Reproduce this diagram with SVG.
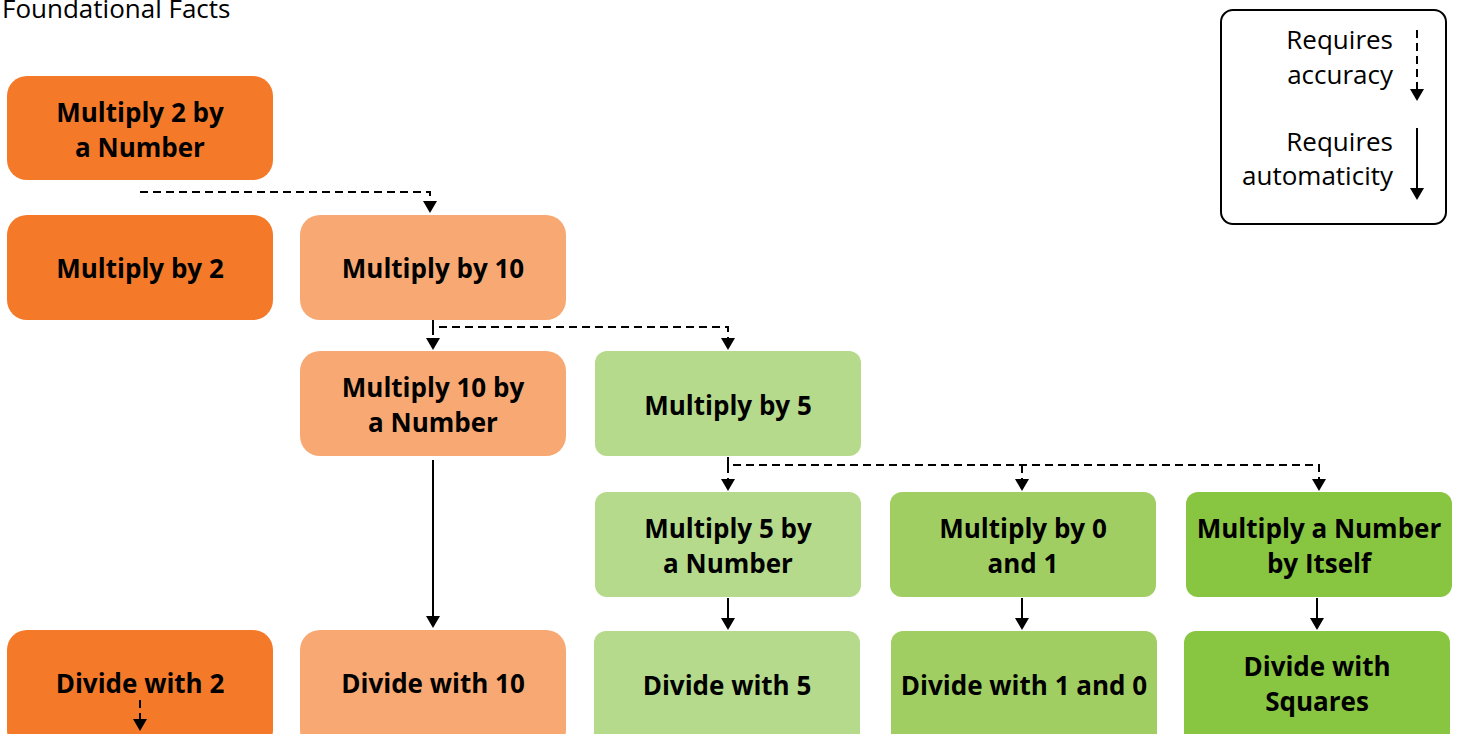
<svg xmlns="http://www.w3.org/2000/svg" width="1460" height="734" viewBox="0 0 1460 734">
<style>
.n text{font-family:"Open Sans","Liberation Sans",sans-serif;font-weight:bold;font-size:26px;fill:#000;text-anchor:middle}
.o1{fill:#F47A29}.o2{fill:#F8A973}.g1{fill:#B6DA8C}.g2{fill:#A0CE63}.g3{fill:#88C540}
.d{fill:none;stroke:#000;stroke-width:2;stroke-dasharray:8 5}
.s{fill:none;stroke:#000;stroke-width:2}
.lg{font-family:"Open Sans","Liberation Sans",sans-serif;font-size:26px;fill:#000;text-anchor:end}
</style>
<defs>
<path id="ah" d="M-7,0 h14 l-7,12 z" fill="#000"/>
</defs>
<rect width="1460" height="734" fill="#fff"/>
<text x="2" y="18" font-family="'Open Sans','Liberation Sans',sans-serif" font-size="26" fill="#000">Foundational Facts</text>

<g id="n-mult2num" class="n"><rect class="o1" x="7" y="76" width="266" height="104" rx="20"/><text x="140" y="122">Multiply 2 by</text><text x="140" y="157">a Number</text></g>
<g id="n-mult2" class="n"><rect class="o1" x="7" y="215" width="266" height="105" rx="20"/><text x="140" y="278">Multiply by 2</text></g>
<g id="n-mult10" class="n"><rect class="o2" x="300" y="215" width="266" height="105" rx="20"/><text x="433" y="278">Multiply by 10</text></g>
<g id="n-mult10num" class="n"><rect class="o2" x="300" y="351" width="266" height="105" rx="20"/><text x="433" y="397">Multiply 10 by</text><text x="433" y="432">a Number</text></g>
<g id="n-mult5" class="n"><rect class="g1" x="595" y="351" width="266" height="105" rx="12"/><text x="728" y="415">Multiply by 5</text></g>
<g id="n-mult5num" class="n"><rect class="g1" x="595" y="492" width="266" height="105" rx="12"/><text x="728" y="538">Multiply 5 by</text><text x="728" y="573">a Number</text></g>
<g id="n-mult01" class="n"><rect class="g2" x="890" y="492" width="266" height="105" rx="12"/><text x="1023" y="538">Multiply by 0</text><text x="1023" y="573">and 1</text></g>
<g id="n-multself" class="n"><rect class="g3" x="1186" y="492" width="266" height="105" rx="12"/><text x="1319" y="538">Multiply a Number</text><text x="1319" y="573">by Itself</text></g>
<g id="n-div2" class="n"><rect class="o1" x="7" y="630" width="266" height="120" rx="20"/><text x="140" y="693">Divide with 2</text></g>
<g id="n-div10" class="n"><rect class="o2" x="300" y="630" width="266" height="120" rx="20"/><text x="433" y="693">Divide with 10</text></g>
<g id="n-div5" class="n"><rect class="g1" x="594" y="631" width="266" height="120" rx="12"/><text x="727" y="695">Divide with 5</text></g>
<g id="n-div10and" class="n"><rect class="g2" x="891" y="631" width="266" height="120" rx="12"/><text x="1024" y="695">Divide with 1 and 0</text></g>
<g id="n-divsq" class="n"><rect class="g3" x="1184" y="631" width="266" height="120" rx="12"/><text x="1317" y="676">Divide with</text><text x="1317" y="711">Squares</text></g>

<g id="connectors">
<path class="d" d="M140,192 H430 V202"/>
<path class="d" d="M433,320 V327 H728 V339"/>
<path class="d" d="M433,327 V339"/>
<path class="d" d="M728,457 V465 H1319 V480"/>
<path class="d" d="M728,465 V480"/>
<path class="d" d="M1022,465 V480"/>
<path class="d" d="M140,700 V720"/>
<path class="s" d="M433,460 V617"/>
<path class="s" d="M728,598 V619"/>
<path class="s" d="M1022,598 V619"/>
<path class="s" d="M1317,598 V619"/>
<use href="#ah" x="430" y="201"/>
<use href="#ah" x="433" y="338"/>
<use href="#ah" x="728" y="338"/>
<use href="#ah" x="728" y="479"/>
<use href="#ah" x="1022" y="479"/>
<use href="#ah" x="1319" y="479"/>
<use href="#ah" x="140" y="719"/>
<use href="#ah" x="433" y="616"/>
<use href="#ah" x="728" y="618"/>
<use href="#ah" x="1022" y="618"/>
<use href="#ah" x="1317" y="618"/>
</g>

<g id="legend">
<rect x="1221" y="10" width="225" height="214" rx="12" fill="#fff" stroke="#000" stroke-width="2"/>
<text class="lg" x="1393" y="49">Requires</text>
<text class="lg" x="1393" y="84">accuracy</text>
<text class="lg" x="1393" y="151">Requires</text>
<text class="lg" x="1393" y="185">automaticity</text>
<path class="d" d="M1417,30 V90"/>
<path class="s" d="M1417,128 V189"/>
<use href="#ah" x="1417" y="89"/>
<use href="#ah" x="1417" y="188"/>
</g>
</svg>
